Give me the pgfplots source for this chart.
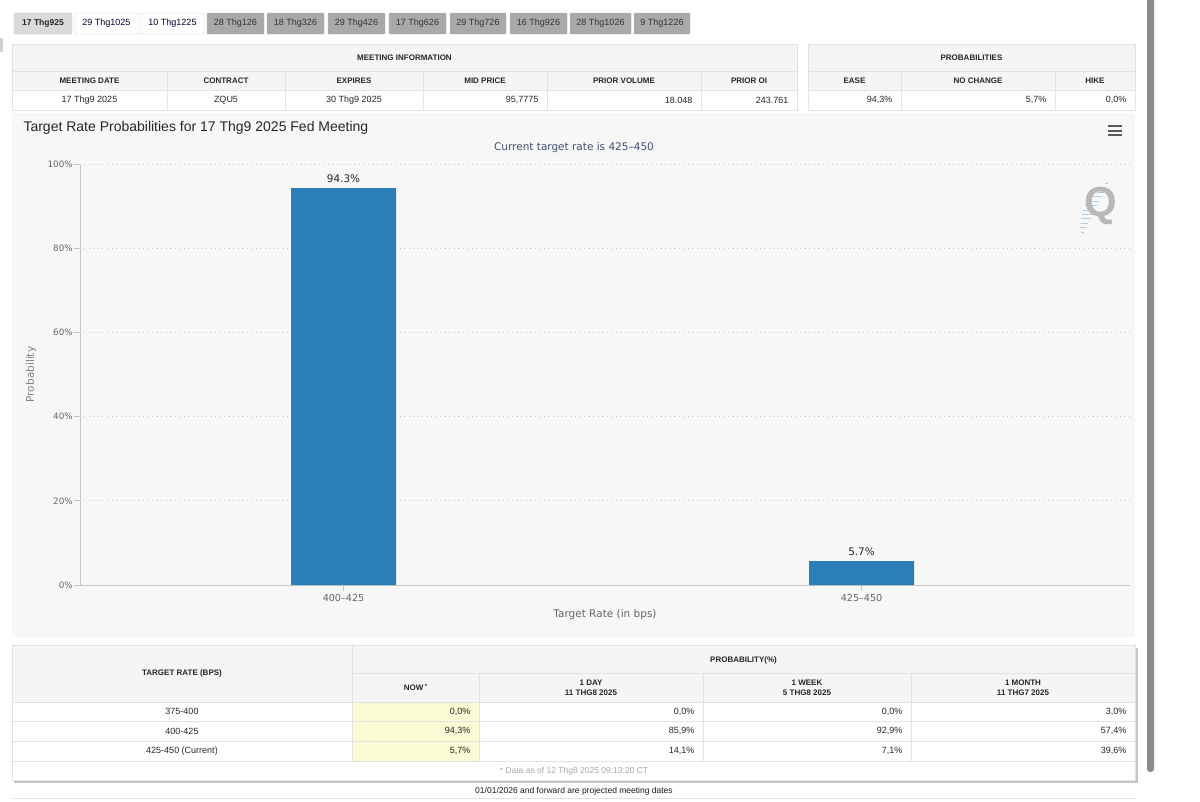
\documentclass[border=0pt]{standalone}
\usepackage{fontspec}
\setmainfont{Liberation Sans}
\newfontfamily\dv{DejaVu Sans}
\usepackage{pgfplots}
\pgfplotsset{compat=1.18}
\definecolor{panel}{HTML}{F7F7F7}
\definecolor{hdrbg}{HTML}{F5F5F5}
\definecolor{bord}{HTML}{E2E2E2}
\definecolor{barblue}{HTML}{2A7FB9}
\definecolor{tabdark}{HTML}{A9A9A9}
\definecolor{tabsel}{HTML}{DADADA}
\definecolor{nowbg}{HTML}{FAFAD4}
\definecolor{subt}{HTML}{405070}
\definecolor{lab}{HTML}{666666}
\definecolor{scroll}{HTML}{8C8C8C}
\definecolor{gridc}{HTML}{C8C8C8}
\definecolor{axc}{HTML}{C6C6C6}
\definecolor{logoblue}{HTML}{A6D2EE}
\newcommand{\fs}[1]{\fontsize{#1}{#1}\selectfont}
\begin{document}
\begin{tikzpicture}[x=1pt,y=-1pt]
\path[use as bounding box, fill=white] (0,0) rectangle (1200,801);
% left tiny mark
\fill[black!18] (0,38) rectangle (3,52);
% scrollbar
\fill[scroll, rounded corners=3] (1147,-6) rectangle (1154,772);
% ---------- tabs
\draw[fill=tabsel, draw=black!20, rounded corners=1] (14,13) rectangle (72,34);
\node[font=\bfseries\fs{8.5}, text=black!85] at (43,23.5) {17 Thg925};
\foreach \a/\b/\t in {75/138/29 Thg1025, 141/204/10 Thg1225} {
  \draw[fill=white, draw=black!20, rounded corners=1] (\a,13) rectangle (\b,34);
  \node[font=\fs{9}, text=black!80!blue] at ({(\a+\b)/2},23.5) {\t};
}
\foreach \a/\b/\t in {207/264/28 Thg126, 267/324/18 Thg326, 328/385/29 Thg426, 389/446/17 Thg626, 450/506/29 Thg726, 510/567/16 Thg926, 570/631/28 Thg1026, 634/690/9 Thg1226} {
  \draw[fill=tabdark, draw=black!30, rounded corners=1] (\a,13) rectangle (\b,34);
  \node[font=\fs{9}, text=black!80] at ({(\a+\b)/2},23.5) {\t};
}
% ---------- meeting information table
\fill[hdrbg] (12,44) rectangle (797,90);
\draw[bord] (12,44) rectangle (797,110);
\draw[bord] (12,71) -- (797,71);
\draw[bord] (12,90) -- (797,90);
\foreach \x in {167,285,423,547,701} \draw[bord] (\x,71) -- (\x,110);
\node[font=\bfseries\fs{8}, text=black!85] at (404.5,58) {MEETING INFORMATION};
\begin{scope}[every node/.style={font=\bfseries\fs{8}, text=black!85}]
\node at (89.5,81) {MEETING DATE};
\node at (226,81) {CONTRACT};
\node at (354,81) {EXPIRES};
\node at (485,81) {MID PRICE};
\node at (624,81) {PRIOR VOLUME};
\node at (749,81) {PRIOR OI};
\end{scope}
\begin{scope}[every node/.style={font=\fs{9}, text=black!85}]
\node at (89.5,100) {17 Thg9 2025};
\node at (226,100) {ZQU5};
\node at (354,100) {30 Thg9 2025};
\node[anchor=east] at (542,100) {95,7775};
\node[anchor=east] at (696,100) {18.048};
\node[anchor=east] at (792,100) {243.761};
\end{scope}
% ---------- probabilities table
\fill[hdrbg] (808,44) rectangle (1135,90);
\draw[bord] (808,44) rectangle (1135,110);
\draw[bord] (808,71) -- (1135,71);
\draw[bord] (808,90) -- (1135,90);
\foreach \x in {901,1055} \draw[bord] (\x,71) -- (\x,110);
\node[font=\bfseries\fs{8}, text=black!85] at (971.5,58) {PROBABILITIES};
\begin{scope}[every node/.style={font=\bfseries\fs{8}, text=black!85}]
\node at (854.5,81) {EASE};
\node at (978,81) {NO CHANGE};
\node at (1095,81) {HIKE};
\end{scope}
\begin{scope}[every node/.style={font=\fs{9}, text=black!85, anchor=east}]
\node at (896,100) {94,3\%};
\node at (1050,100) {5,7\%};
\node at (1130,100) {0,0\%};
\end{scope}
% ---------- chart panel
\fill[panel] (12,113) rectangle (1135,637);
\node[anchor=west, font=\fs{14}, text=black!85] at (20,127.5) {Target Rate Probabilities for 17 Thg9 2025 Fed Meeting};
\node[font=\dv\fs{10.5}, text=subt] at (574,148) {Current target rate is 425–450};
\foreach \yy in {126,130.5,135} \draw[line width=2pt, black!65] (1108,\yy) -- (1122,\yy);
% logo
\foreach \i/\l in {0/3,1/6,2/8,3/10,4/11,5/12,6/12,7/11,8/9,9/7,10/5,11/3} \draw[logoblue, line width=1pt] ({1084+2.2*\i-\l},{232-4.4*\i}) -- ({1084+2.2*\i},{232-4.4*\i});
\node[font=\bfseries\fs{42}, text=black!28] at (1101,206) {Q};
% ---------- axis
\begin{axis}[
  at={(80pt,-585pt)}, anchor=south west,
  scale only axis, width=1050pt, height=421pt,
  xmin=-0.5087, xmax=1.5183, ymin=0, ymax=100,
  axis x line*=bottom, axis y line*=left,
  x axis line style={draw=axc, line width=0.9pt},
  y axis line style={draw=axc, line width=0.9pt},
  ybar, bar width=105pt,
  xtick={0,1}, xticklabels={400–425,425–450},
  ytick={0,20,40,60,80,100}, yticklabels={0\%,20\%,40\%,60\%,80\%,100\%},
  ymajorgrids, grid style={draw=gridc, line width=0.9pt, dash pattern=on 1pt off 3.5pt},
  tick align=outside, major tick length=6pt,
  tick style={draw=axc, line width=0.9pt},
  yticklabel style={font=\dv\fs{8.8}, text=lab, anchor=east, inner sep=0pt, xshift=-1pt},
  xticklabel style={font=\dv\fs{9.6}, text=lab, anchor=north, inner sep=0pt, yshift=-3pt},
  xlabel={Target Rate (in bps)},
  xlabel style={font=\dv\fs{10.5}, text=lab, at={(axis description cs:0.5,-0.0713)}, anchor=center},
  ylabel={Probability},
  ylabel style={font=\dv\fs{10.5}, text=black!50, at={(axis description cs:-0.0467,0.5)}, anchor=center},
  nodes near coords={\pgfmathprintnumber[fixed,precision=1,assume math mode=true]{\pgfplotspointmeta}\%},
  every node near coord/.append style={font=\dv\fs{10.4}, text=black!85, anchor=south, inner sep=0pt, yshift=5pt},
  clip=false,
]
\addplot[fill=barblue, draw=none] coordinates {(0,94.3) (1,5.7)};
\end{axis}
% ---------- bottom table
\fill[hdrbg] (12,645) rectangle (1135,702);
\fill[nowbg] (352,702) rectangle (479,761);
\draw[black!22, line width=2pt] (1136.5,648) -- (1136.5,781.5) -- (14,781.5);
\draw[bord] (12,645) rectangle (1135,780);
\draw[bord] (352,673) -- (1135,673);
\foreach \yy in {702,721,741,761} \draw[bord] (12,\yy) -- (1135,\yy);
\draw[bord] (352,645) -- (352,761);
\foreach \x in {479,703,911} \draw[bord] (\x,673) -- (\x,761);
\begin{scope}[every node/.style={font=\bfseries\fs{8}, text=black!85, align=center}]
\node at (182,673) {TARGET RATE (BPS)};
\node at (743.5,660) {PROBABILITY(\%)};
\node at (415.5,687.5) {NOW\,\raisebox{2.5pt}{\fs{6}*}};
\node[font=\bfseries\fontsize{8}{10}\selectfont] at (591,687.5) {1 DAY\\11 THG8 2025};
\node[font=\bfseries\fontsize{8}{10}\selectfont] at (807,687.5) {1 WEEK\\5 THG8 2025};
\node[font=\bfseries\fontsize{8}{10}\selectfont] at (1023,687.5) {1 MONTH\\11 THG7 2025};
\end{scope}
\begin{scope}[every node/.style={font=\fs{9}, text=black!85}]
\node at (182,711.5) {375-400};
\node at (182,731) {400-425};
\node at (182,751) {425-450 (Current)};
\end{scope}
\begin{scope}[every node/.style={font=\fs{9}, text=black!85, anchor=east}]
\node at (474,711.5) {0,0\%};   \node at (698,711.5) {0,0\%};  \node at (906,711.5) {0,0\%}; \node at (1130,711.5) {3,0\%};
\node at (474,731) {94,3\%};    \node at (698,731) {85,9\%};   \node at (906,731) {92,9\%};  \node at (1130,731) {57,4\%};
\node at (474,751) {5,7\%};     \node at (698,751) {14,1\%};   \node at (906,751) {7,1\%};   \node at (1130,751) {39,6\%};
\end{scope}
\node[font=\fs{8.5}, text=black!35] at (574,771) {* Data as of 12 Thg8 2025 09:13:20 CT};
\node[font=\fs{8.5}, text=black!90] at (574,791) {01/01/2026 and forward are projected meeting dates};
\draw[black!10] (12,798.5) -- (1135,798.5);
\end{tikzpicture}
\end{document}
